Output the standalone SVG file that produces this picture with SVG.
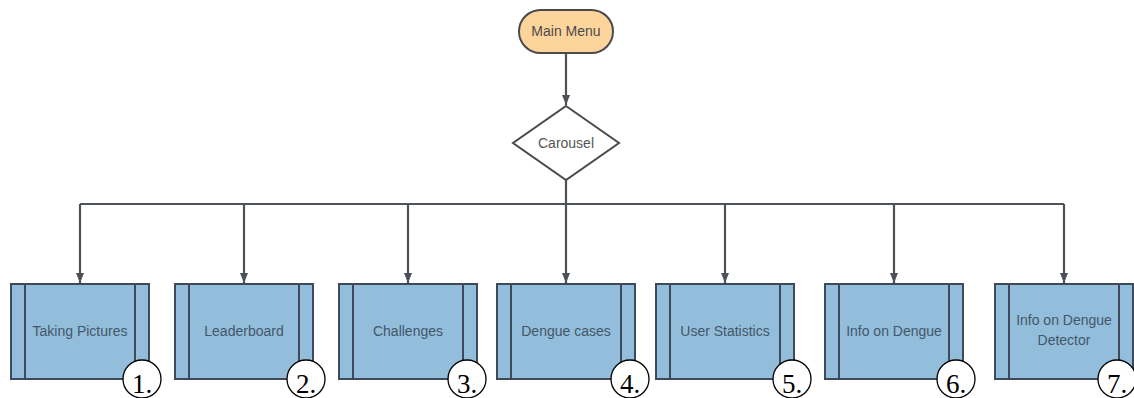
<svg xmlns="http://www.w3.org/2000/svg" width="1134" height="398" viewBox="0 0 1134 398">
<defs>
<style>
.box{fill:#92bedb;stroke:#3e4a5a;stroke-width:2}
.inner{stroke:#3e4a5a;stroke-width:2}
.lbl{font-family:"Liberation Sans",Arial,sans-serif;font-size:14px;fill:#44566a;text-anchor:middle}
.num{font-family:"Liberation Serif","Times New Roman",serif;font-size:27px;fill:#000;text-anchor:middle}
.circ{fill:#fff;stroke:#000;stroke-width:1.3}
.conn{fill:none;stroke:#4d5158;stroke-width:2.2}
</style>
<marker id="arr" markerWidth="10" markerHeight="11" refX="10" refY="5" orient="auto" markerUnits="userSpaceOnUse" viewBox="0 0 10 10">
<path d="M0,1 L10,5 L0,9 Z" fill="#4d5158"/>
</marker>
</defs>
<rect width="1134" height="398" fill="#fff"/>
<g id="connectors">
<path class="conn" d="M566,54 V105" marker-end="url(#arr)"/>
<path class="conn" d="M80,204 H1064"/>
<path class="conn" d="M566,180 V283" marker-end="url(#arr)"/>
<path class="conn" d="M80,204 V283" marker-end="url(#arr)"/>
<path class="conn" d="M244,204 V283" marker-end="url(#arr)"/>
<path class="conn" d="M408,204 V283" marker-end="url(#arr)"/>
<path class="conn" d="M725,204 V283" marker-end="url(#arr)"/>
<path class="conn" d="M894,204 V283" marker-end="url(#arr)"/>
<path class="conn" d="M1064,204 V283" marker-end="url(#arr)"/>
</g>
<g id="main-menu">
<rect x="519" y="10" width="94" height="43" rx="21.5" fill="#fdd49c" stroke="#4a4a4a" stroke-width="2"/>
<text class="lbl" x="566" y="36" style="fill:#4a4a4a">Main Menu</text>
</g>
<g id="carousel">
<path d="M566,106 L619,143 L566,180 L513,143 Z" fill="#fff" stroke="#4a4a4a" stroke-width="2"/>
<text class="lbl" x="566" y="148" style="fill:#555">Carousel</text>
</g>
<g id="node1">
<rect class="box" x="11" y="284" width="138" height="95"/>
<line class="inner" x1="25" y1="284" x2="25" y2="379"/><line class="inner" x1="135" y1="284" x2="135" y2="379"/>
<text class="lbl" x="80" y="336">Taking Pictures</text>
<circle class="circ" cx="142" cy="379" r="19"/><text class="num" x="142" y="393">1.</text>
</g>
<g id="node2">
<rect class="box" x="175" y="284" width="138" height="95"/>
<line class="inner" x1="189" y1="284" x2="189" y2="379"/><line class="inner" x1="299" y1="284" x2="299" y2="379"/>
<text class="lbl" x="244" y="336">Leaderboard</text>
<circle class="circ" cx="306" cy="379" r="19"/><text class="num" x="306" y="393">2.</text>
</g>
<g id="node3">
<rect class="box" x="339" y="284" width="138" height="95"/>
<line class="inner" x1="353" y1="284" x2="353" y2="379"/><line class="inner" x1="463" y1="284" x2="463" y2="379"/>
<text class="lbl" x="408" y="336">Challenges</text>
<circle class="circ" cx="467" cy="379" r="19"/><text class="num" x="467" y="393">3.</text>
</g>
<g id="node4">
<rect class="box" x="497" y="284" width="138" height="95"/>
<line class="inner" x1="511" y1="284" x2="511" y2="379"/><line class="inner" x1="621" y1="284" x2="621" y2="379"/>
<text class="lbl" x="566" y="336">Dengue cases</text>
<circle class="circ" cx="630" cy="379" r="19"/><text class="num" x="630" y="393">4.</text>
</g>
<g id="node5">
<rect class="box" x="656" y="284" width="138" height="95"/>
<line class="inner" x1="670" y1="284" x2="670" y2="379"/><line class="inner" x1="780" y1="284" x2="780" y2="379"/>
<text class="lbl" x="725" y="336">User Statistics</text>
<circle class="circ" cx="792" cy="379" r="19"/><text class="num" x="792" y="393">5.</text>
</g>
<g id="node6">
<rect class="box" x="825" y="284" width="138" height="95"/>
<line class="inner" x1="839" y1="284" x2="839" y2="379"/><line class="inner" x1="949" y1="284" x2="949" y2="379"/>
<text class="lbl" x="894" y="336">Info on Dengue</text>
<circle class="circ" cx="956" cy="379" r="19"/><text class="num" x="956" y="393">6.</text>
</g>
<g id="node7">
<rect class="box" x="995" y="284" width="138" height="95"/>
<line class="inner" x1="1009" y1="284" x2="1009" y2="379"/><line class="inner" x1="1119" y1="284" x2="1119" y2="379"/>
<text class="lbl" x="1064" y="325">Info on Dengue</text>
<text class="lbl" x="1064" y="345">Detector</text>
<circle class="circ" cx="1117" cy="379" r="19"/><text class="num" x="1117" y="393">7.</text>
</g>
</svg>
